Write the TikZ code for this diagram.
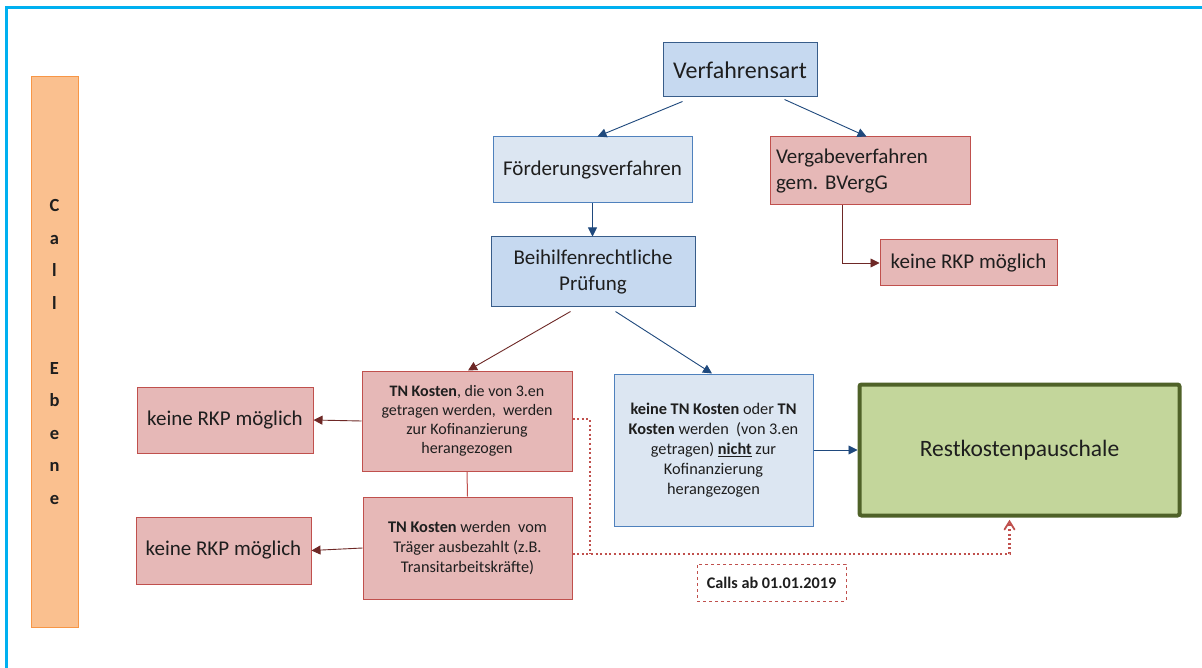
\documentclass[tikz,border=0pt]{standalone}
\usepackage{fontspec}
\setmainfont{Carlito}
\usetikzlibrary{calc,arrows.meta}
\definecolor{cyanframe}{RGB}{0,176,240}
\definecolor{barfill}{RGB}{250,192,143}
\definecolor{bardraw}{RGB}{247,150,70}
\definecolor{bluefillA}{RGB}{198,217,240}
\definecolor{bluefillB}{RGB}{220,230,242}
\definecolor{bluedrawA}{RGB}{56,93,138}
\definecolor{bluedrawB}{RGB}{79,129,189}
\definecolor{redfill}{RGB}{230,184,183}
\definecolor{reddraw}{RGB}{192,80,77}
\definecolor{brownarrow}{RGB}{110,40,38}
\definecolor{bluearrow}{RGB}{31,73,125}
\definecolor{greenfill}{RGB}{195,214,155}
\definecolor{greendraw}{RGB}{79,98,40}
\definecolor{txt}{RGB}{30,30,30}
\tikzset{
  base/.style={inner sep=2pt, text=txt, align=center, line width=1pt},
  blueA/.style={base, fill=bluefillA, draw=bluedrawA},
  blueB/.style={base, fill=bluefillB, draw=bluedrawB},
  redbox/.style={base, fill=redfill, draw=reddraw},
  bigtext/.style={font=\fontsize{24}{28}\selectfont},
  midtext/.style={font=\fontsize{21}{25.5}\selectfont},
  tntext/.style={font=\fontsize{16}{19.2}\selectfont},
  boxtext/.style={font=\fontsize{16.3}{20}\selectfont},
  bluearr/.style={draw=bluearrow, line width=0.9pt, -{Triangle[length=9pt,width=9pt]}},
  brownarr/.style={draw=brownarrow, line width=0.9pt, -{Triangle[length=9pt,width=9pt]}},
  dotline/.style={draw=reddraw, line width=2.2pt, dash pattern=on 2pt off 2.6pt},
}
\begin{document}
\begin{tikzpicture}[x=1pt,y=-1pt]
\useasboundingbox (0,0) rectangle (1202,668);
\fill[white] (0,0) rectangle (1202,668);
% frame
\draw[cyanframe, line width=3pt] (6,668) -- (6,8) -- (1202,8);
% left bar
\node[draw=bardraw, fill=barfill, line width=1pt, minimum width=47, minimum height=550, inner sep=0pt,
  font=\bfseries\fontsize{18.5}{32.5}\selectfont, align=center, text=txt] (bar) at (54.5,352)
  {C\\a\\l\\l\\[0pt]\strut\\E\\b\\e\\n\\e};
% top nodes
\node[blueA, bigtext, minimum width=154, minimum height=54] (verf) at (740,70) {Verfahrensart};
\node[blueB, midtext, minimum width=199, minimum height=66] (foerd) at (592.5,170) {Förderungsverfahren};
\node[redbox, midtext, minimum width=200, minimum height=68, align=left, text width=188] (verg) at (870,171) {Vergabeverfahren\\gem.\ BVergG};
\node[redbox, midtext, minimum width=177, minimum height=46] (rkp1) at (968.5,263) {keine RKP möglich};
\node[blueA, midtext, minimum width=204, minimum height=70] (beih) at (593,272) {Beihilfenrechtliche\\Prüfung};
% lower nodes
\node[redbox, tntext, minimum width=210, minimum height=100] (tn1) at (467,421)
  {\textbf{TN Kosten}, die von 3.en\\getragen werden, \ werden\\zur Kofinanzierung\\herangezogen};
\node[redbox, boxtext, minimum width=209, minimum height=102] (tn2) at (467.5,548)
  {\textbf{TN Kosten} werden \ vom\\Träger ausbezahlt (z.B.\\Transitarbeitskräfte)};
\node[redbox, midtext, minimum width=176, minimum height=66] (rkpA) at (225,420) {keine RKP möglich};
\node[redbox, midtext, minimum width=175, minimum height=67] (rkpB) at (223.5,550.5) {keine RKP möglich};
\node[blueB, boxtext, minimum width=199, minimum height=152] (ktn) at (713.5,450)
  {\textbf{keine TN Kosten} oder \textbf{TN}\\\textbf{Kosten} werden \ (von 3.en\\getragen) \underline{\textbf{nicht}} zur\\Kofinanzierung\\herangezogen};
\node[fill=greenfill, draw=greendraw, line width=4pt, rounded corners=2pt, minimum width=320, minimum height=131,
  text=txt, font=\fontsize{23.5}{28}\selectfont] (rest) at (1019.5,450) {Restkostenpauschale};
\node[draw=reddraw, dashed, line width=0.8pt, fill=white, minimum width=149, minimum height=37, text=txt,
  font=\bfseries\fontsize{16.2}{18}\selectfont] (calls) at (771.5,582.5) {Calls ab 01.01.2019};
% connectors
\draw[bluearr] ($(verf.south west)+(20,4)$) -- ($(foerd.north)+(5,0)$);
\draw[bluearr] ($(verf.south west)+(122,2)$) -- ($(verg.north west)+(97,0)$);
\draw[bluearr] (foerd.south) -- (foerd.south |- beih.north);
\draw[brownarr] ($(verg.south west)+(73,0)$) |- (rkp1.west);
\draw[brownarr] ($(beih.south west)+(80,4)$) -- ($(tn1.north)+(1,0)$);
\draw[bluearr] ($(beih.south west)+(125,4)$) -- ($(ktn.north)+(-1.5,0)$);
\draw[brownarr] (tn1.west) -- (rkpA.east);
\draw[brownarr] (tn2.west) -- (rkpB.east);
\draw[draw=reddraw, line width=1pt] (tn1.south) -- (tn2.north);
\draw[bluearr] (ktn.east) -- (rest.west);
% dotted connector
\coordinate (j) at (590,554);
\draw[dotline] ($(tn1.east)+(0,-2)$) -| (j);
\draw[dotline] (tn2.east |- j) -- (j) -| ($(rest.south)+(-10,4)$);
\draw[draw=reddraw, line width=1.8pt, line cap=round] ($(rest.south)+(-15,12)$) -- ($(rest.south)+(-10,4)$) -- ($(rest.south)+(-5,12)$);
\end{tikzpicture}
\end{document}
